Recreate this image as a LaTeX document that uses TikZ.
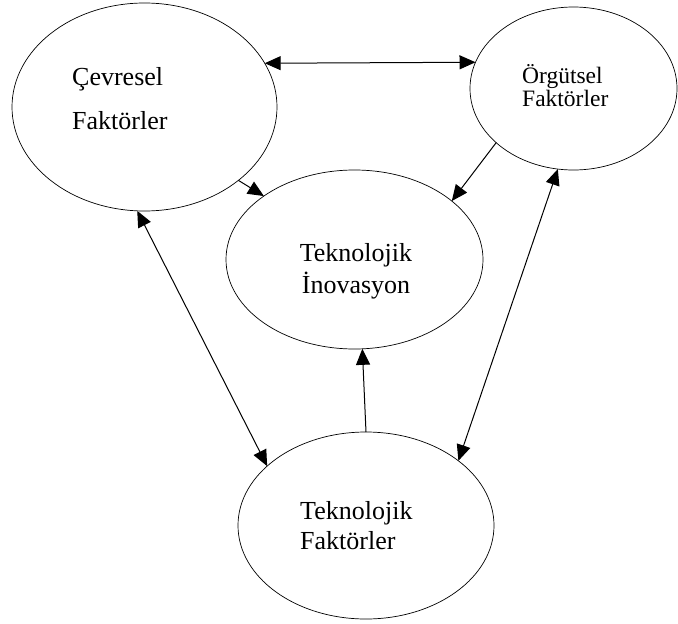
\documentclass[tikz,border=0pt]{standalone}
\usepackage{fontspec}
\setmainfont{Liberation Serif}
\usetikzlibrary{shapes.geometric,arrows.meta}

\begin{document}
\begin{tikzpicture}[x=1pt, y=-1pt,
        faktor/.style = {draw, ellipse, line width=0.7pt, inner sep=0pt, outer sep=0pt},
        yazi/.style = {inner sep=0pt, font=\fontsize{26pt}{44pt}\selectfont},
        ok/.style = {line width=1pt, -{Triangle[length=16pt, width=14pt]}},
        cift/.style = {line width=1pt, {Triangle[length=16pt, width=14pt]}-{Triangle[length=16pt, width=14pt]}}]
    \useasboundingbox (0,0) rectangle (678,624);
    \node[faktor, minimum width=265pt, minimum height=208pt] (cevre) at (144.5,107) {};
    \node[faktor, minimum width=207pt, minimum height=163pt] (orgut) at (573.5,88.5) {};
    \node[faktor, minimum width=257pt, minimum height=179pt] (inovasyon) at (354.5,259.5) {};
    \node[faktor, minimum width=256pt, minimum height=187pt] (teknoloji) at (366,525.5) {};
    \node[yazi, anchor=west, align=left] (cevreyazi) at (72,98.5) {Çevresel\\Faktörler};
    \node[yazi, anchor=west, align=left, font=\fontsize{23.5pt}{23pt}\selectfont] (orgutyazi) at (522,86) {Örgütsel\\Faktörler};
    \node[yazi, align=center, font=\fontsize{26pt}{32pt}\selectfont] (inovasyonyazi) at (356,271) {Teknolojik\\İnovasyon};
    \node[yazi, anchor=west, align=left, font=\fontsize{26pt}{30pt}\selectfont] (teknolojiyazi) at (300,526) {Teknolojik\\Faktörler};
    \draw[cift] (cevre.20) -- (orgut.165.8);
    \draw[ok] (cevre.322) -- (inovasyon.145.2);
    \draw[ok] (orgut.215.5) -- (inovasyon.31.6);
    \draw[ok] (teknoloji.north) -- (inovasyon.275.4);
    \draw[cift] (cevre.266) -- (teknoloji.149.1);
    \draw[cift] (orgut.259) -- (teknoloji.35.7);
\end{tikzpicture}
\end{document}
